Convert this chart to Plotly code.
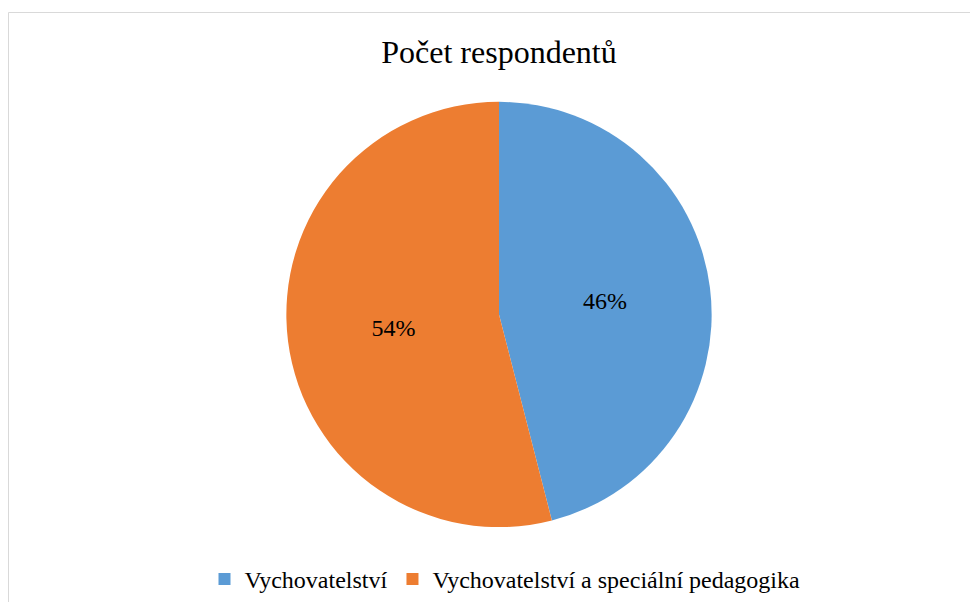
import plotly.graph_objects as go

labels = ["Vychovatelství", "Vychovatelství a speciální pedagogika"]
shares = [46, 54]
colors = ["#5B9BD5", "#ED7D31"]

# the page body adds an 8px margin; keep the figure inside the window so no scrollbars appear
W, H = 962, 594
OFF = 8
SERIF = "Liberation Serif, Times New Roman, serif"


def px_x(x):
    return (x - OFF) / W


def px_y(y):
    return 1 - (y - OFF) / H


fig = go.Figure(
    go.Pie(
        labels=labels,
        values=shares,
        sort=False,
        direction="clockwise",
        rotation=0,
        marker=dict(colors=colors, line=dict(width=0)),
        textinfo="percent",
        texttemplate="%{percent:.0%}",
        textposition="inside",
        insidetextorientation="horizontal",
        textfont=dict(family=SERIF, size=24, color="#000000"),
        domain=dict(x=[px_x(286), px_x(712)], y=[px_y(528), px_y(102)]),
        hoverinfo="label+percent",
    )
)

fig.update_layout(
    width=W,
    height=H,
    margin=dict(t=0, b=0, l=0, r=0),
    paper_bgcolor="#FFFFFF",
    font=dict(family=SERIF, color="#000000"),
    title=dict(
        text="Počet respondentů",
        x=px_x(499),
        xanchor="center",
        y=px_y(52),
        yanchor="middle",
        font=dict(family=SERIF, size=32, color="#000000"),
    ),
    legend=dict(
        orientation="h",
        x=px_x(505),
        xanchor="center",
        y=px_y(580),
        yanchor="middle",
        font=dict(family=SERIF, size=24),
        itemwidth=30,
    ),
    shapes=[
        dict(
            type="rect",
            xref="paper",
            yref="paper",
            x0=px_x(8.5),
            x1=1.02,
            y0=-0.02,
            y1=px_y(12.5),
            line=dict(color="#D9D9D9", width=1),
        )
    ],
)

fig.write_html("out.html")
